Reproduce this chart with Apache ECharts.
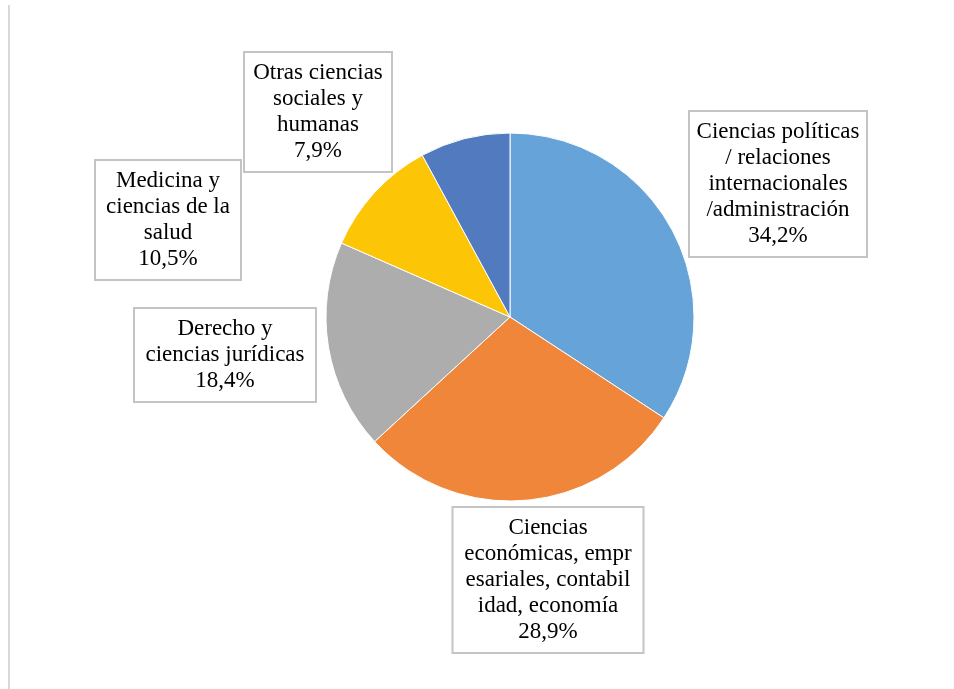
<!DOCTYPE html>
<html>
<head>
<meta charset="utf-8">
<script src="https://cdn.jsdelivr.net/npm/echarts@6/dist/echarts.min.js"></script>
<style>
  html, body { margin: 0; padding: 0; background: #fff; }
  #chart { width: 954px; height: 689px; }
</style>
</head>
<body>
<div id="chart"></div>
<script>
// data
const categories = [
  'Ciencias políticas\n/ relaciones\ninternacionales\n/administración',
  'Ciencias\neconómicas, empr\nesariales, contabil\nidad, economía',
  'Derecho y\nciencias jurídicas',
  'Medicina y\nciencias de la\nsalud',
  'Otras ciencias\nsociales y\nhumanas'
];
const shares = [34.2, 28.9, 18.4, 10.5, 7.9];
const colors = ['#65a3d9', '#ef8639', '#adadad', '#fcc506', '#527bbf'];

// label box layout: centre x, centre y, outer width
const boxX = [778, 548, 225, 168, 318];
const boxY = [184, 580, 355, 220, 112];
const boxW = [180, 193, 184, 148, 150];

const chart = echarts.init(document.getElementById('chart'));

const option = {
  backgroundColor: '#fff',
  animation: false,
  graphic: [
    {
      type: 'line',
      shape: { x1: 9, y1: 5, x2: 9, y2: 689 },
      style: { stroke: '#d9d9d9', lineWidth: 2 },
      silent: true
    }
  ],
  series: [
    {
      type: 'pie',
      center: [510, 317],
      radius: 184,
      startAngle: 90,
      clockwise: true,
      itemStyle: { borderColor: '#fff', borderWidth: 1 },
      label: {
        show: true,
        position: 'outside',
        fontFamily: '"Liberation Serif", "DejaVu Serif", serif',
        fontSize: 23,
        lineHeight: 26,
        color: '#000',
        align: 'center',
        backgroundColor: '#fff',
        borderColor: '#c4c4c4',
        borderWidth: 2,
        padding: [7, 2],
        formatter: (p) => p.name + '\n' + p.value.toFixed(1).replace('.', ',') + '%'
      },
      labelLine: { show: false },
      labelLayout: (p) => ({
        x: boxX[p.dataIndex],
        y: boxY[p.dataIndex],
        align: 'center',
        verticalAlign: 'middle'
      }),
      data: categories.map((name, i) => ({
        name: name,
        value: shares[i],
        itemStyle: { color: colors[i] },
        label: { width: boxW[i] - 8 }
      }))
    }
  ]
};

chart.setOption(option);
</script>
</body>
</html>
